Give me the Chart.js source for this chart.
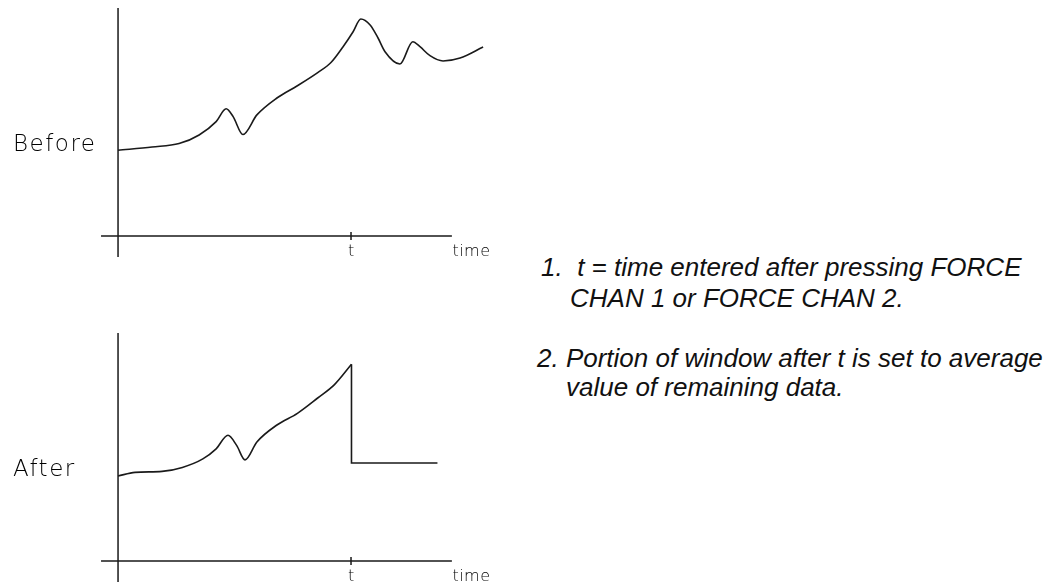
<!DOCTYPE html>
<html>
<head>
<meta charset="utf-8">
<script src="https://cdn.jsdelivr.net/npm/chart.js@4"></script>
<style>
  html, body { margin: 0; padding: 0; background: #fff; overflow: hidden; }
  body { width: 1060px; height: 584px; position: relative; }
  canvas { position: absolute; left: 0; }
  #before { top: 0; }
  #after { top: 325px; }
  .note {
    position: absolute;
    font-family: "Liberation Sans", Arial, sans-serif;
    font-style: italic;
    font-size: 26px;
    line-height: 30px;
    color: #111;
    white-space: pre;
  }
</style>
</head>
<body>
<canvas id="before" width="530" height="262"></canvas>
<canvas id="after" width="530" height="262"></canvas>
<div class="note" style="left:541px; top:252px;">1.  t = time entered after pressing FORCE</div>
<div class="note" style="left:570px; top:283px;">CHAN 1 or FORCE CHAN 2.</div>
<div class="note" style="left:537px; top:343px;">2. Portion of window after t is set to average</div>
<div class="note" style="left:566px; top:372px;">value of remaining data.</div>
<script>
// signal before forcing (time units, arbitrary amplitude)
const beforeX = [0, 1.46, 2.62, 3.48, 4.21, 4.64, 4.94, 5.36, 5.96, 6.82, 7.68, 8.57, 9.14, 9.66, 10.09, 10.42, 10.82, 11.16, 11.46, 12.1, 12.65, 12.96, 13.39, 13.95, 14.68, 15.67];
const beforeY = [8.57, 8.9, 9.24, 10.1, 11.44, 12.72, 11.94, 10.15, 12.11, 13.8, 15.0, 16.34, 17.35, 18.93, 20.43, 21.7, 21.1, 19.8, 18.43, 17.2, 19.43, 18.93, 18.03, 17.5, 17.8, 18.9];

// signal after forcing, up to t
const afterX = [0, 0.73, 1.89, 2.76, 3.64, 4.21, 4.72, 5.09, 5.45, 5.96, 6.82, 7.7, 8.57, 9.29, 10.02];
const afterY = [8.5, 8.86, 8.96, 9.36, 10.21, 11.22, 12.57, 11.56, 10.11, 11.9, 13.6, 14.77, 16.3, 17.64, 19.67];

// remainder of window replaced by its average
const avgX = [10.02, 10.02, 13.71];
const avgY = [19.67, 9.8, 9.8];

const tTime = 10;
const axisEnd = 14.33;
const axisStart = -0.73;
const timeLabelX = 15.17;

function pts(xs, ys) {
  return xs.map((x, i) => ({ x: x, y: ys[i] }));
}

const axesPlugin = {
  id: 'axes',
  beforeDatasetsDraw(chart, args, opts) {
    const ctx = chart.ctx;
    const x = chart.scales.x;
    const y = chart.scales.y;
    const x0 = x.getPixelForValue(0);
    const y0 = y.getPixelForValue(0);
    ctx.save();
    ctx.strokeStyle = '#1a1a1a';
    ctx.lineWidth = 1.5;
    ctx.beginPath();
    ctx.moveTo(x0, chart.chartArea.top);
    ctx.lineTo(x0, chart.chartArea.bottom);
    ctx.moveTo(x.getPixelForValue(axisStart), y0);
    ctx.lineTo(x.getPixelForValue(axisEnd), y0);
    const xt = x.getPixelForValue(tTime);
    ctx.moveTo(xt, y0 - 4);
    ctx.lineTo(xt, y0 + 4);
    ctx.stroke();

    ctx.fillStyle = '#000';
    ctx.font = '200 16px "DejaVu Sans"';
    ctx.textBaseline = 'alphabetic';
    ctx.textAlign = 'center';
    ctx.fillText('t', xt, y0 + 20);
    ctx.letterSpacing = '0.5px';
    ctx.fillText('time', x.getPixelForValue(timeLabelX), y0 + 20);

    ctx.font = '200 23px "DejaVu Sans"';
    ctx.letterSpacing = '1.5px';
    ctx.textAlign = 'left';
    ctx.fillText(opts.label, 13, 151);
    ctx.restore();
  }
};

function makeChart(id, label, datasets) {
  return new Chart(document.getElementById(id), {
    type: 'line',
    data: { datasets: datasets },
    options: {
      responsive: false,
      animation: false,
      devicePixelRatio: 1,
      layout: { padding: { left: 99.4, right: 39.2, top: 8, bottom: 5 } },
      scales: {
        x: { type: 'linear', min: -0.8, max: 16, display: false },
        y: { type: 'linear', min: -2.1, max: 22.8, display: false }
      },
      plugins: {
        legend: { display: false },
        tooltip: { enabled: false },
        axes: { label: label }
      },
      elements: { point: { radius: 0 } }
    },
    plugins: [axesPlugin]
  });
}

makeChart('before', 'Before', [{
  data: pts(beforeX, beforeY),
  borderColor: '#1a1a1a',
  borderWidth: 1.6,
  cubicInterpolationMode: 'monotone',
  fill: false,
  clip: false
}]);

makeChart('after', 'After', [{
  data: pts(afterX, afterY),
  borderColor: '#1a1a1a',
  borderWidth: 1.6,
  cubicInterpolationMode: 'monotone',
  fill: false,
  clip: false
}, {
  data: pts(avgX, avgY),
  borderColor: '#1a1a1a',
  borderWidth: 1.6,
  tension: 0,
  fill: false,
  clip: false
}]);
</script>
</body>
</html>
